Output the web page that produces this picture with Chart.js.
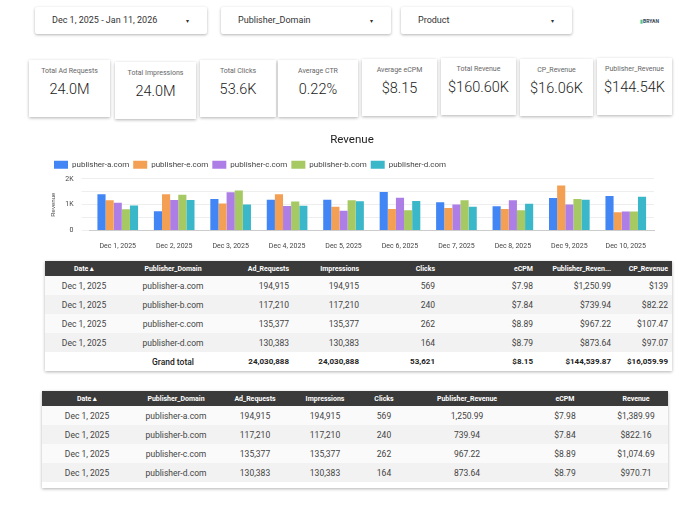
<!DOCTYPE html>
<html><head><meta charset="utf-8">
<script src="https://cdn.jsdelivr.net/npm/chart.js@4"></script>
<style>
body{margin:0;width:680px;height:511px;background:#fff;font-family:Roboto,"Liberation Sans",sans-serif;position:relative;overflow:hidden;color:#222}
.f{position:absolute;top:7px;height:27px;background:#fff;box-shadow:0 1px 3px rgba(0,0,0,.3);border-radius:2px;font-size:9px;line-height:27px;padding-left:17px;box-sizing:border-box;color:#333}
.f span{position:absolute;right:18px;font-size:6px}
.k{position:absolute;top:60px;height:57px;background:#fff;box-shadow:0 1px 3px rgba(0,0,0,.3);text-align:center;box-sizing:border-box}
.k .t{font-size:7px;color:#666;margin-top:7px}
.k .v{font-size:14.5px;color:#222;margin-top:6px;font-weight:300}
table{position:absolute;border-collapse:collapse;font-size:8.5px;box-shadow:0 1px 3px rgba(0,0,0,.3)}
th{background:#3a3a3a;color:#fff;font-size:7px;font-weight:bold;height:15px;padding:0 4px}
td{height:19px;padding:0 4px;color:#444}
tr:nth-child(odd) td{background:#f2f2f2}
tr:nth-child(even) td{background:#fafafa}
tr.g td{background:#fff;font-weight:bold;color:#222;font-size:8px}
tr.g td.gl{font-size:8.5px;font-weight:500}
.r{text-align:right}.c{text-align:center}
</style></head><body>
<div class="f" style="left:35px;width:172px">Dec 1, 2025 - Jan 11, 2026<span>▾</span></div>
<div class="f" style="left:221px;width:170px">Publisher_Domain<span>▾</span></div>
<div class="f" style="left:401px;width:171px">Product<span>▾</span></div>
<div style="position:absolute;left:640px;top:18px;font-size:5px;font-weight:bold;color:#345"><span style="color:#4c9">▮</span>BRYAN</div>
<div id="kpis"></div>
<div style="position:absolute;left:50px;top:133px;width:610px;height:120px"><canvas id="c"></canvas></div>
<table id="t1" style="left:45px;top:261px;width:627px"></table>
<table id="t2" style="left:42px;top:391px;width:626px"></table>
<script>
const kpiLabels=["Total Ad Requests","Total Impressions","Total Clicks","Average CTR","Average eCPM","Total Revenue","CP_Revenue","Publisher_Revenue"];
const kpiValues=["24.0M","24.0M","53.6K","0.22%","$8.15","$160.60K","$16.06K","$144.54K"];
const kpiX=[[29,81],[115,81],[200,76],[278,80],[362,75],[441,75],[520,73],[597,75]];
const kpiTop=[60,62,60,60,59,58,59,58];
kpiLabels.forEach((l,i)=>{const d=document.createElement('div');d.className='k';d.style.left=kpiX[i][0]+'px';d.style.width=kpiX[i][1]+'px';d.style.top=kpiTop[i]+'px';d.innerHTML='<div class="t">'+l+'</div><div class="v">'+kpiValues[i]+'</div>';document.getElementById('kpis').appendChild(d);});

const categories=["Dec 1, 2025","Dec 2, 2025","Dec 3, 2025","Dec 4, 2025","Dec 5, 2025","Dec 6, 2025","Dec 7, 2025","Dec 8, 2025","Dec 9, 2025","Dec 10, 2025"];
const seriesNames=["publisher-a.com","publisher-e.com","publisher-c.com","publisher-b.com","publisher-d.com"];
const pubA=[1400,750,1220,1190,1190,1490,1090,940,1260,1340];
const pubE=[1170,1400,1050,1400,920,830,870,830,1740,710];
const pubC=[1080,1180,1480,950,770,1270,1010,1170,1010,740];
const pubB=[820,1380,1550,1120,1170,790,1170,790,1220,740];
const pubD=[970,1180,1010,960,1130,1140,920,1040,1190,1310];
const colors=["#4285f4","#f4a054","#ad7fe6","#a6c964","#3ab7c9"];
const series=[pubA,pubE,pubC,pubB,pubD];
new Chart(document.getElementById('c'),{type:'bar',
data:{labels:categories,datasets:series.map((s,i)=>({label:seriesNames[i],data:s,backgroundColor:colors[i],borderWidth:0}))},
options:{responsive:true,maintainAspectRatio:false,animation:false,
layout:{padding:{left:0,right:6}},
datasets:{bar:{categoryPercentage:0.72,barPercentage:1}},
plugins:{title:{display:true,text:'Revenue',color:'#222',font:{size:11.5,family:'Roboto',weight:'normal'},padding:{top:0,bottom:10}},
legend:{align:'start',labels:{boxWidth:14,boxHeight:8,padding:4,font:{size:8,family:'Roboto'},color:'#444'}},tooltip:{enabled:false}},
scales:{x:{grid:{display:false},border:{color:'#ccc'},ticks:{font:{size:7,family:'Roboto'},color:'#444',maxRotation:0,autoSkip:false}},
y:{min:0,max:2000,border:{display:false},title:{display:true,text:'Revenue',font:{size:6},color:'#444',padding:0},
grid:{color:'#eee'},ticks:{stepSize:500,font:{size:7,family:'Roboto'},color:'#444',padding:8,callback:v=>v%1000?'':(v===0?'0':v/1000+'K')}}}}});

const dates=["Dec 1, 2025","Dec 1, 2025","Dec 1, 2025","Dec 1, 2025"];
const domains=["publisher-a.com","publisher-b.com","publisher-c.com","publisher-d.com"];
const adReq=["194,915","117,210","135,377","130,383"];
const impr=["194,915","117,210","135,377","130,383"];
const clicks=["569","240","262","164"];
const ecpm=["$7.98","$7.84","$8.89","$8.79"];
const pubRevD=["$1,250.99","$739.94","$967.22","$873.64"];
const cpRev=["$139","$82.22","$107.47","$97.07"];
const pubRev=["1,250.99","739.94","967.22","873.64"];
const revenue=["$1,389.99","$822.16","$1,074.69","$970.71"];
const totals=["Grand total","24,030,888","24,030,888","53,621","$8.15","$144,539.87","$16,059.99"];

let h='<tr><th class="c" style="width:70px">Date ▴</th><th class="c" style="width:92px">Publisher_Domain</th><th class="r" style="width:62px">Ad_Requests</th><th class="r" style="width:62px">Impressions</th><th class="r" style="width:68px">Clicks</th><th class="r" style="width:90px">eCPM</th><th class="r" style="width:70px">Publisher_Reven...</th><th class="r">CP_Revenue</th></tr>';
for(let i=0;i<4;i++)h+=`<tr><td class="c">${dates[i]}</td><td class="c">${domains[i]}</td><td class="r">${adReq[i]}</td><td class="r">${impr[i]}</td><td class="r">${clicks[i]}</td><td class="r">${ecpm[i]}</td><td class="r">${pubRevD[i]}</td><td class="r">${cpRev[i]}</td></tr>`;
h+=`<tr class="g"><td></td><td class="c gl">${totals[0]}</td>`+totals.slice(1).map(t=>`<td class="r">${t}</td>`).join('')+'</tr>';
document.getElementById('t1').innerHTML=h;

let h2='<tr><th class="c" style="width:82px">Date ▴</th><th class="c" style="width:80px">Publisher_Domain</th><th class="c" style="width:62px">Ad_Requests</th><th class="c" style="width:62px">Impressions</th><th class="c" style="width:40px">Clicks</th><th class="c" style="width:110px">Publisher_Revenue</th><th class="c" style="width:70px">eCPM</th><th class="c">Revenue</th></tr>';
for(let i=0;i<4;i++)h2+=`<tr><td class="c">${dates[i]}</td><td class="c">${domains[i]}</td><td class="c">${adReq[i]}</td><td class="c">${impr[i]}</td><td class="c">${clicks[i]}</td><td class="c">${pubRev[i]}</td><td class="c">${ecpm[i]}</td><td class="c">${revenue[i]}</td></tr>`;
h2+='<tr><td colspan="8" style="height:6px;background:#fff"></td></tr>';
document.getElementById('t2').innerHTML=h2;
</script></body></html>
